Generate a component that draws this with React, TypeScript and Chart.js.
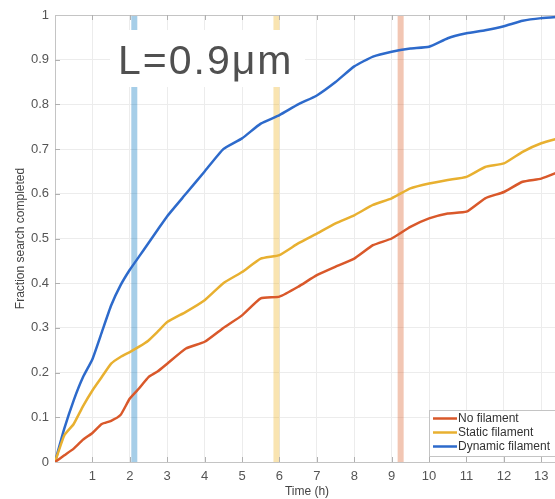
import React, { useEffect, useRef } from "react";
import { Chart, registerables } from "chart.js";

Chart.register(...registerables);

const timeH = [0, 0.25, 0.5, 0.75, 1, 1.25, 1.5, 1.75, 2, 2.25, 2.5, 2.75, 3, 3.5, 4, 4.5, 5, 5.5, 6, 6.5, 7, 7.5, 8, 8.5, 9, 9.5, 10, 10.5, 11, 11.5, 12, 12.5, 13, 13.5];
const noFilament = [0, 0.015, 0.03, 0.05, 0.065, 0.085, 0.092, 0.105, 0.142, 0.165, 0.19, 0.203, 0.22, 0.254, 0.269, 0.30, 0.328, 0.366, 0.37, 0.392, 0.418, 0.437, 0.455, 0.485, 0.50, 0.526, 0.545, 0.556, 0.56, 0.59, 0.604, 0.627, 0.634, 0.65];
const staticFilament = [0, 0.06, 0.085, 0.125, 0.16, 0.19, 0.22, 0.235, 0.246, 0.258, 0.272, 0.292, 0.313, 0.336, 0.362, 0.40, 0.425, 0.455, 0.463, 0.489, 0.511, 0.534, 0.552, 0.575, 0.59, 0.612, 0.623, 0.631, 0.638, 0.66, 0.668, 0.694, 0.713, 0.725];
const dynamicFilament = [0, 0.075, 0.138, 0.19, 0.23, 0.29, 0.35, 0.395, 0.43, 0.46, 0.49, 0.52, 0.55, 0.60, 0.65, 0.70, 0.724, 0.757, 0.776, 0.80, 0.82, 0.85, 0.885, 0.907, 0.918, 0.925, 0.929, 0.948, 0.959, 0.966, 0.975, 0.987, 0.993, 0.996];

const seriesNames = ["No filament", "Static filament", "Dynamic filament"];
const seriesColors = ["#d9582a", "#e8b030", "#2d6acb"];
const markerTimes = [9.24, 5.92, 2.12]; // red, yellow, blue bands
const markerColors = ["rgba(217,83,25,0.33)", "rgba(237,177,32,0.35)", "rgba(0,114,189,0.35)"];
const annotationText = "L=0.9μm";
const xTitle = "Time (h)";
const yTitle = "Fraction search completed";

const FONT = "'Liberation Sans', Arial, Helvetica, sans-serif";

const overlayPlugin = {
  id: "overlay",
  beforeDatasetsDraw(chart: any) {
    const { ctx, chartArea, scales } = chart;
    const xs = scales.x;
    const ys = scales.y;
    ctx.save();
    // bands
    markerTimes.forEach((t, i) => {
      const px = xs.getPixelForValue(t);
      ctx.fillStyle = markerColors[i];
      ctx.fillRect(px - 3, chartArea.top, 6, chartArea.bottom - chartArea.top);
    });
    // text box
    ctx.fillStyle = "#ffffff";
    ctx.fillRect(110, 30, 195, 57);
    ctx.fillStyle = "#505050";
    ctx.font = `41px ${FONT}`;
    (ctx as any).letterSpacing = "2px";
    ctx.textAlign = "left";
    ctx.textBaseline = "alphabetic";
    ctx.fillText(annotationText, 118, 74);
    (ctx as any).letterSpacing = "0px";
    // frame top/right
    ctx.strokeStyle = "#c4c4c4";
    ctx.lineWidth = 1;
    ctx.beginPath();
    ctx.moveTo(chartArea.left, chartArea.top + 0.5);
    ctx.lineTo(chartArea.right, chartArea.top + 0.5);
    ctx.moveTo(chartArea.right - 0.5, chartArea.top);
    ctx.lineTo(chartArea.right - 0.5, chartArea.bottom);
    ctx.stroke();
    // inward ticks
    ctx.strokeStyle = "#b0b0b0";
    ctx.beginPath();
    for (let t = 1; t <= 13; t++) {
      const px = Math.round(xs.getPixelForValue(t)) + 0.5;
      ctx.moveTo(px, chartArea.bottom);
      ctx.lineTo(px, chartArea.bottom - 5);
      ctx.moveTo(px, chartArea.top);
      ctx.lineTo(px, chartArea.top + 5);
    }
    for (let k = 1; k <= 9; k++) {
      const py = Math.round(ys.getPixelForValue(k / 10)) + 0.5;
      ctx.moveTo(chartArea.left, py);
      ctx.lineTo(chartArea.left + 5, py);
    }
    ctx.stroke();
    // axis titles
    ctx.fillStyle = "#444444";
    ctx.font = `12px ${FONT}`;
    ctx.textAlign = "center";
    ctx.textBaseline = "middle";
    ctx.fillText(xTitle, 307, 492);
    ctx.translate(21, (chartArea.top + chartArea.bottom) / 2);
    ctx.rotate(-Math.PI / 2);
    ctx.fillText(yTitle, 0, 0);
    ctx.restore();
  },
  afterDatasetsDraw(chart: any) {
    const { ctx } = chart;
    ctx.save();
    const bx = 429, by = 410, bw = 140, bh = 46;
    ctx.fillStyle = "#ffffff";
    ctx.fillRect(bx, by, bw, bh);
    ctx.strokeStyle = "#c4c4c4";
    ctx.lineWidth = 1;
    ctx.strokeRect(bx + 0.5, by + 0.5, bw, bh);
    ctx.font = `12px ${FONT}`;
    ctx.textAlign = "left";
    ctx.textBaseline = "middle";
    seriesNames.forEach((name, i) => {
      const y = by + 8.5 + i * 14;
      ctx.strokeStyle = seriesColors[i];
      ctx.lineWidth = 2.5;
      ctx.beginPath();
      ctx.moveTo(433, y);
      ctx.lineTo(457, y);
      ctx.stroke();
      ctx.fillStyle = "#333333";
      ctx.fillText(name, 458, y + 0.5);
    });
    ctx.restore();
  },
};

export default function App() {
  const ref = useRef<HTMLCanvasElement>(null);
  useEffect(() => {
    if (!ref.current) return;
    const mk = (vals: number[]) => timeH.map((t, i) => ({ x: t, y: vals[i] }));
    const chart = new Chart(ref.current, {
      type: "line",
      data: {
        datasets: [noFilament, staticFilament, dynamicFilament].map((vals, i) => ({
          label: seriesNames[i],
          data: mk(vals),
          borderColor: seriesColors[i],
          backgroundColor: seriesColors[i],
          borderWidth: 2.5,
          pointRadius: 0,
          tension: 0.15,
          fill: false,
        })),
      },
      options: {
        animation: false,
        responsive: false,
        devicePixelRatio: 1,
        layout: { padding: { top: 15, right: 5, left: 0, bottom: 0 } },
        plugins: { legend: { display: false }, tooltip: { enabled: false } },
        scales: {
          x: {
            type: "linear",
            min: 0,
            max: 13.5,
            afterFit: (s: any) => { s.height = 37; },
            grid: { color: "#ececec", drawTicks: false },
            border: { color: "#c4c4c4" },
            ticks: {
              stepSize: 1,
              includeBounds: false,
              autoSkip: false,
              maxRotation: 0,
              padding: 7,
              color: "#555555",
              font: { size: 13, family: FONT },
              callback: (v: any) => (v === 0 || v % 1 !== 0 ? "" : String(v)),
            },
          },
          y: {
            min: 0,
            max: 1,
            afterFit: (s: any) => { s.width = 55; },
            grid: { color: "#ececec", drawTicks: false },
            border: { color: "#c4c4c4" },
            ticks: {
              stepSize: 0.1,
              padding: 6,
              color: "#555555",
              font: { size: 13, family: FONT },
              callback: (v: any) => String(Math.round(v * 10) / 10),
            },
          },
        },
      },
      plugins: [overlayPlugin],
    });
    return () => chart.destroy();
  }, []);
  return (
    <div style={{ position: "fixed", left: 0, top: 0, width: 555, height: 499, overflow: "hidden", background: "#fff" }}>
      <canvas ref={ref} width={565} height={499} style={{ width: 565, height: 499, display: "block" }} />
    </div>
  );
}
